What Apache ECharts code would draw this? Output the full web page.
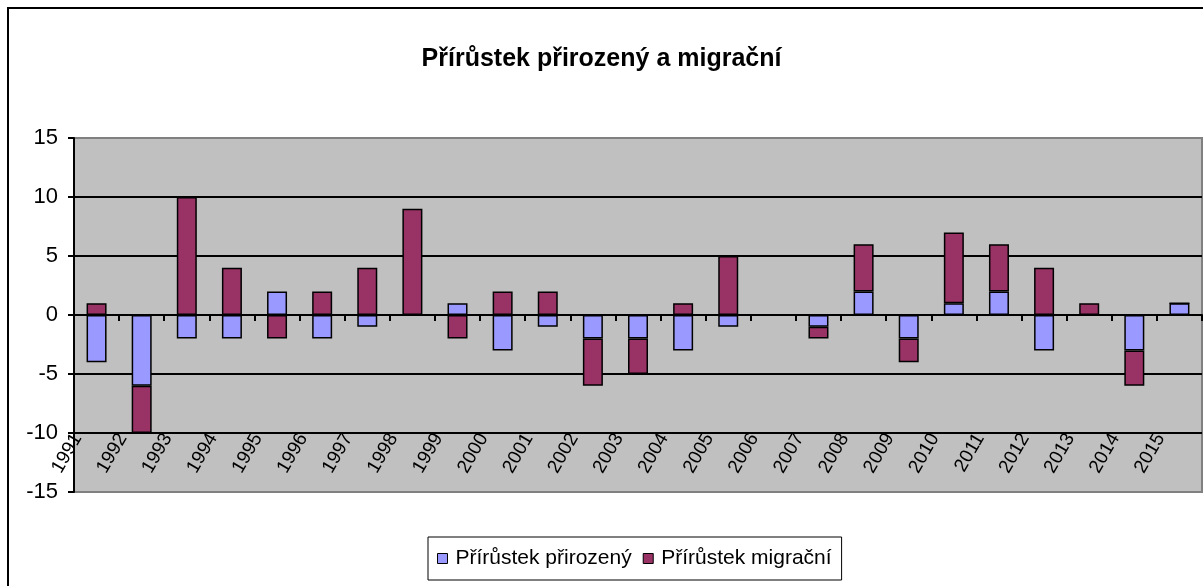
<!DOCTYPE html>
<html>
<head>
<meta charset="utf-8">
<script src="https://cdn.jsdelivr.net/npm/echarts@6/dist/echarts.min.js"></script>
<style>
  html, body { margin: 0; padding: 0; background: #fff; }
  #chart { width: 1203px; height: 586px; }
</style>
</head>
<body>
<div id="chart"></div>
<script>
// přírůstek přirozený a migrační, 1991-2015

var years = ['1991','1992','1993','1994','1995','1996','1997','1998','1999','2000',
  '2001','2002','2003','2004','2005','2006','2007','2008','2009','2010',
  '2011','2012','2013','2014','2015'];
var prirozeny = [-4, -6, -2, -2, 2, -2, -1, 0, 1, -3, -1, -2, -2, -3, -1, 0, -1, 2, -2, 1, 2, -3, 0, -3, 1];
var migracni = [1, -4, 10, 4, -2, 2, 4, 9, -2, 2, 2, -4, -3, 1, 5, 0, -1, 4, -2, 6, 4, 4, 1, -3, 0];
var yTicks = [-15, -10, -5, 0, 5, 10, 15];

var font = '"Liberation Sans", Arial, sans-serif';

var myChart = echarts.init(document.getElementById('chart'));
var option = {
  backgroundColor: '#fff',
  animation: false,
  title: {
    text: 'Přírůstek přirozený a migrační',
    left: 'center',
    top: 42,
    textStyle: { color: '#000', fontSize: 25, fontWeight: 'bold', fontFamily: font }
  },
  graphic: [{
    type: 'rect',
    shape: { x: 8, y: 8, width: 1400, height: 800 },
    style: { fill: 'none', stroke: '#000', lineWidth: 2 },
    z: 100
  }],
  legend: {
    left: 428,
    top: 537,
    padding: [11, 10, 11, 9],
    borderColor: '#000',
    borderWidth: 1,
    backgroundColor: '#fff',
    itemWidth: 10,
    itemHeight: 10,
    itemGap: 11,
    icon: 'rect',
    itemStyle: { borderColor: '#000', borderWidth: 1 },
    textStyle: { color: '#000', fontSize: 21, fontFamily: font, padding: [0, 0, 0, 3] },
    data: ['Přírůstek přirozený', 'Přírůstek migrační']
  },
  grid: {
    left: 74, right: 1, top: 138, bottom: 94,
    outerBoundsMode: 'none',
    containLabel: false,
    show: true,
    backgroundColor: '#c0c0c0',
    borderColor: '#808080',
    borderWidth: 2
  },
  xAxis: {
    type: 'category',
    data: years,
    axisLine: { onZero: true, lineStyle: { color: '#000', width: 2 } },
    axisTick: { show: true, length: 6, lineStyle: { color: '#000', width: 2 } },
    axisLabel: {
      interval: 0,
      rotate: 60,
      margin: -90,
      padding: [0, 38, 0, 0],
      color: '#000',
      fontSize: 19,
      fontFamily: font
    }
  },
  yAxis: {
    type: 'value',
    min: yTicks[0],
    max: yTicks[yTicks.length - 1],
    interval: 5,
    axisLine: { show: true, lineStyle: { color: '#000', width: 2 } },
    axisTick: { show: true, length: 6, lineStyle: { color: '#000', width: 2 } },
    axisLabel: { color: '#000', fontSize: 22, fontFamily: font, margin: 16 },
    splitLine: { show: true, showMinLine: false, showMaxLine: false, lineStyle: { color: '#000', width: 2 } }
  },
  series: [
    {
      name: 'Přírůstek přirozený',
      type: 'bar',
      stack: 'a',
      barWidth: 20,
      itemStyle: { color: '#9999ff', borderColor: '#000', borderWidth: 1.5 },
      data: prirozeny
    },
    {
      name: 'Přírůstek migrační',
      type: 'bar',
      stack: 'a',
      barWidth: 20,
      itemStyle: { color: '#993366', borderColor: '#000', borderWidth: 1.5 },
      data: migracni
    }
  ]
};
myChart.setOption(option);
</script>
</body>
</html>
